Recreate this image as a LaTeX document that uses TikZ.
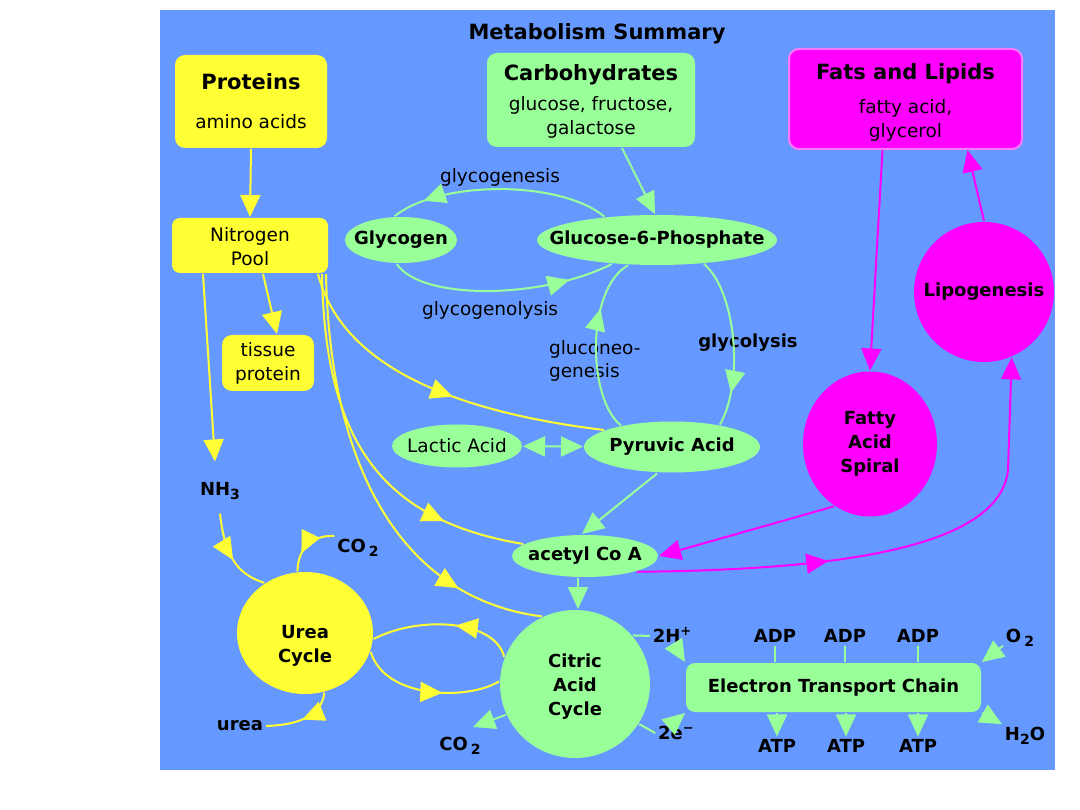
\documentclass[tikz,border=0pt]{standalone}
\usepackage{fontspec}
\setmainfont{DejaVu Sans}
\usetikzlibrary{arrows.meta,shapes.geometric,decorations.markings}

\definecolor{bgblue}{HTML}{6699FF}
\definecolor{yel}{HTML}{FFFF33}
\definecolor{grn}{HTML}{99FF99}
\definecolor{mag}{HTML}{FF00FF}
\definecolor{pinkline}{HTML}{FF77FF}

\newcommand{\headfont}{\fontsize{21}{24}\selectfont\bfseries}
\newcommand{\chemsub}[1]{\raisebox{-4pt}[0pt][0pt]{\fontsize{14}{14}\selectfont #1}}
\newcommand{\chemsup}[1]{\raisebox{7pt}[0pt][0pt]{\fontsize{13}{13}\selectfont #1}}

\begin{document}
\begin{tikzpicture}[x=1pt, y=-1pt, >={Triangle[width=20pt,length=22pt]}, line width=2pt,
    every node/.style={inner sep=2pt},
    lbl/.style={font=\fontsize{18}{24}\selectfont\bfseries, align=center},
    txt/.style={font=\fontsize{18.5}{23}\selectfont, align=center},
    box/.style={rounded corners=10pt, align=center, inner sep=0pt, font=\fontsize{18.5}{24}\selectfont},
    oval/.style={ellipse, inner xsep=-40pt, inner ysep=-12pt, align=center, font=\fontsize{18}{24}\selectfont\bfseries},
    yline/.style={color=yel},
    gline/.style={color=grn},
    mline/.style={color=mag},
    midtip/.style={postaction={decorate}, decoration={markings, mark=at position #1 with {\arrow{>}}}}]
    % 1. background
    \fill[white] (0,0) rectangle (1080,810);
    \fill[bgblue] (160,10) rectangle (1055,770);

    % 2. title and source boxes
    \node[lbl, font=\headfont] (title) at (597,34) {Metabolism Summary};
    \node[box, fill=yel, minimum width=152pt, minimum height=93pt] (prot) at (251,101.5) {{\headfont Proteins}\\[15pt] amino acids};
    \node[box, fill=grn, minimum width=208pt, minimum height=94pt] (carb) at (591,100) {{\headfont\rule{0pt}{19pt}Carbohydrates}\\[6pt] glucose, fructose,\\ galactose};
    \node[box, fill=mag, draw=pinkline, minimum width=233pt, minimum height=100pt] (fat) at (905.5,99) {{\headfont\rule{0pt}{22pt}Fats and Lipids}\\[10pt] fatty acid,\\ glycerol};
    \node[box, fill=yel, rounded corners=8pt, minimum width=156pt, minimum height=55pt] (np) at (250,245.5) {\rule{0pt}{17pt}Nitrogen\\ Pool};
    \node[box, fill=yel, minimum width=92pt, minimum height=56pt] (tis) at (268,363) {tissue\\ protein};

    % 3. pathway ovals and cycles
    \node[oval, fill=grn, minimum width=112pt, minimum height=46pt] (gly) at (401,240) {Glycogen};
    \node[oval, fill=grn, minimum width=240pt, minimum height=50pt] (gsp) at (657,240) {Glucose-6-Phosphate};
    \node[oval, fill=grn, minimum width=130pt, minimum height=43pt, font=\fontsize{18.5}{23}\selectfont] (lac) at (457,446) {Lactic Acid};
    \node[oval, fill=grn, minimum width=176pt, minimum height=51pt] (pyr) at (672,447) {Pyruvic Acid};
    \node[oval, fill=grn, minimum width=146pt, minimum height=42pt] (ace) at (585,556) {acetyl Co A};
    \node[oval, fill=mag, minimum width=134pt, minimum height=145pt] (fas) at (870,444) {Fatty\\ Acid\\ Spiral};
    \node[oval, fill=mag, minimum width=140pt, minimum height=140pt] (lipo) at (984,292) {Lipogenesis};
    \node[oval, fill=yel, minimum width=136pt, minimum height=122pt, label={[lbl, yshift=-13pt]center:{Urea\\ Cycle}}] (urea) at (305,633) {};
    \node[oval, fill=grn, minimum width=150pt, minimum height=148pt] (cit) at (575,684) {\rule{0pt}{19pt}Citric\\ Acid\\ Cycle};
    \node[box, fill=grn, rounded corners=9pt, minimum width=295pt, minimum height=49pt, font=\fontsize{18}{24}\selectfont\bfseries] (etc) at (833.5,687.5) {Electron Transport Chain};

    % 4. free labels
    \node[txt] (lgen) at (500,177) {glycogenesis};
    \node[txt] (llys) at (490,310) {glycogenolysis};
    \node[txt, align=left, anchor=west] (lneo) at (546,361) {gluconeo-\\ genesis};
    \node[lbl] (lcol) at (748,343) {glycolysis};
    \node[lbl] (nh3) at (220,489) {NH\chemsub{3}};
    \node[lbl] (co2a) at (358,546) {CO\,\chemsub{2}};
    \node[lbl] (urealbl) at (240,726) {urea};
    \node[lbl] (co2b) at (460,744) {CO\,\chemsub{2}};
    \node[lbl] (hplus) at (672,636) {2H\chemsup{+}};
    \node[lbl] (eminus) at (676,733) {2e\chemsup{−}};
    \node[lbl] (adp1) at (775,636) {ADP};
    \node[lbl] (adp2) at (845,636) {ADP};
    \node[lbl] (adp3) at (918,636) {ADP};
    \node[lbl] (atp1) at (777,746) {ATP};
    \node[lbl] (atp2) at (846,746) {ATP};
    \node[lbl] (atp3) at (918,746) {ATP};
    \node[lbl] (o2) at (1020,636) {O\,\chemsub{2}};
    \node[lbl] (h2o) at (1025,734) {H\chemsub{2}O};

    % 5. protein (yellow) arrows
    \draw[yline, ->] (prot.south) -- (np.north);
    \draw[yline, ->] ([xshift=-47pt]np.south) -- ([xshift=-5pt, yshift=18pt]nh3.north);
    \draw[yline, ->] ([xshift=13pt]np.south) -- ([xshift=9pt]tis.north);
    \draw[yline, midtip=0.55] ([xshift=68pt]np.south) .. controls (340,360) and (440,410) .. (pyr.166);
    \draw[yline, midtip=0.78] ([xshift=72pt]np.south) .. controls (325,440) and (380,520) .. (ace.169);
    \draw[yline, midtip=0.8] ([xshift=76pt]np.south) .. controls (330,480) and (410,600) .. (cit.116);
    \draw[yline, midtip=0.55] ([yshift=-15pt]nh3.south) .. controls (225,560) and (240,575) .. (urea.129);
    \draw[yline, midtip=0.68] ([yshift=10pt]co2a.west) .. controls (312,535) and (298,548) .. (urea.97);
    \draw[yline, midtip=0.5] (urea.-72) .. controls (322,715) and (300,725) .. (urealbl.east);
    \draw[yline, midtip=0.42] (cit.159) .. controls (495,620) and (420,615) .. (urea.-5);
    \draw[yline, midtip=0.6] (urea.-16) .. controls (385,700) and (470,700) .. (cit.178);

    % 6. carbohydrate (green) arrows
    \draw[gline, ->] ([xshift=31pt]carb.south) -- ([xshift=-2pt]gsp.north);
    \draw[gline, midtip=0.85] (gsp.156) .. controls (560,180) and (440,180) .. (gly.105);
    \draw[gline, midtip=0.8] (gly.-100) .. controls (420,300) and (540,300) .. (gsp.208);
    \draw[gline, midtip=0.7] (pyr.157) .. controls (588,400) and (585,290) .. (gsp.221);
    \draw[gline, midtip=0.8] (gsp.-27) .. controls (735,290) and (745,380) .. (pyr.25);
    \draw[gline, <->] (lac) -- (pyr);
    \draw[gline, ->] ([xshift=-15pt]pyr.south) -- ([xshift=-3pt]ace.north);
    \draw[gline, ->] ([xshift=-7pt]ace.south) -- ([xshift=3pt]cit.north);
    \draw[gline, ->] (cit.204) -- ([xshift=13pt, yshift=17pt]co2b.center);

    % 7. electron transport chain
    \draw[gline] (cit.40) -- (hplus.west);
    \draw[gline, ->] ([xshift=3pt]hplus.south) -- (etc.north west);
    \draw[gline] (cit.-32) -- (eminus.west);
    \draw[gline, ->] ([xshift=-3pt]eminus.north) -- (etc.south west);
    \draw[gline] (adp1.south) -- (adp1.south |- etc.north);
    \draw[gline] (adp2.south) -- (adp2.south |- etc.north);
    \draw[gline] (adp3.south) -- (adp3.south |- etc.north);
    \draw[gline, ->] (atp1.north |- etc.south) -- (atp1.north);
    \draw[gline, ->] (atp2.north |- etc.south) -- (atp2.north);
    \draw[gline, ->] (atp3.north |- etc.south) -- (atp3.north);
    \draw[gline, ->] (o2.south west) -- (etc.north east);
    \draw[gline, ->] (etc.south east) -- (h2o.north west);

    % 8. lipid (magenta) arrows
    \draw[mline, ->] ([xshift=-23pt]fat.south) -- (fas.north);
    \draw[mline, ->] (lipo.north) -- ([xshift=62pt]fat.south);
    \draw[mline, ->] (fas.240) -- (ace.east);
    \draw[mline, midtip=0.37, ->] (ace.-17) .. controls (850,570) and (1000,545) .. (1008,470) -- (lipo.-67);
\end{tikzpicture}
\end{document}
